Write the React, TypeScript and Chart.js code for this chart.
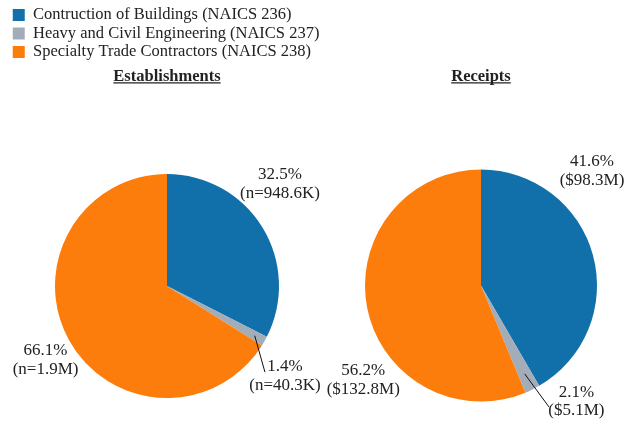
import { useEffect, useRef } from "react";
import { Chart, registerables } from "chart.js";

Chart.register(...registerables);

const categories = [
  "Contruction of Buildings (NAICS 236)",
  "Heavy and Civil Engineering (NAICS 237)",
  "Specialty Trade Contractors (NAICS 238)",
];
const chartTitles = ["Establishments", "Receipts"];
const establishmentShares = [32.5, 1.4, 66.1];
const establishmentCounts = ["948.6K", "40.3K", "1.9M"];
const receiptShares = [41.6, 2.1, 56.2];
const receiptAmounts = ["$98.3M", "$5.1M", "$132.8M"];
const sliceColors = ["#1170AA", "#A3ACB9", "#FC7D0B"];

// label placement (style): offsets from the outer mid-point of each slice
const estLabelOffsets = [[17.5, -43.5], [20.5, 34.8], [-23.5, 19.7]];
const estLeaders = [null, { from: 0.9, to: [0.5, 31] }, null];
const recLabelOffsets = [[-1, -84.4], [44, 12], [-4, 72]];
const recLeaders = [null, { from: 0.85, to: [16.6, 17.5] }, null];

const FONT = "'Liberation Serif', 'Times New Roman', serif";
const TEXT = "#222222";

function makeLabelPlugin(lines: string[][], offsets: number[][], leaders: any[]) {
  return {
    id: "sliceLabels",
    afterDraw(chart: any) {
      const ctx = chart.ctx;
      const meta = chart.getDatasetMeta(0);
      ctx.save();
      meta.data.forEach((arc: any, i: number) => {
        const p = arc.getProps(["x", "y", "startAngle", "endAngle", "outerRadius"], true);
        const mid = (p.startAngle + p.endAngle) / 2;
        const ox = p.x + Math.cos(mid) * p.outerRadius;
        const oy = p.y + Math.sin(mid) * p.outerRadius;
        const lead = leaders[i];
        if (lead) {
          ctx.beginPath();
          ctx.strokeStyle = "#111";
          ctx.lineWidth = 1;
          ctx.moveTo(p.x + Math.cos(mid) * p.outerRadius * lead.from, p.y + Math.sin(mid) * p.outerRadius * lead.from);
          ctx.lineTo(ox + lead.to[0], oy + lead.to[1]);
          ctx.stroke();
        }
        const cx = ox + offsets[i][0];
        const cy = oy + offsets[i][1];
        ctx.font = `17px ${FONT}`;
        ctx.fillStyle = TEXT;
        ctx.textAlign = "center";
        ctx.textBaseline = "middle";
        const lh = 18.5;
        lines[i].forEach((t, k) => {
          ctx.fillText(t, cx, cy + (k - (lines[i].length - 1) / 2) * lh);
        });
      });
      // underline title
      const tb = chart.titleBlock;
      if (tb) {
        ctx.font = `bold 16.5px ${FONT}`;
        const text = chart.options.plugins.title.text;
        const w = ctx.measureText(text).width;
        const midX = (tb.left + tb.right) / 2;
        const midY = tb.top + tb._padding.top + (16.5 * 1.2) / 2;
        ctx.beginPath();
        ctx.strokeStyle = TEXT;
        ctx.lineWidth = 1.3;
        ctx.moveTo(midX - w / 2, midY + 6.5);
        ctx.lineTo(midX + w / 2, midY + 6.5);
        ctx.stroke();
      }
      ctx.restore();
    },
  };
}

function makeConfig(
  title: string,
  values: number[],
  lines: string[][],
  offsets: number[][],
  leaders: any[],
  showLegend: boolean,
  padding: any,
  titlePadBottom: number
): any {
  return {
    type: "pie",
    data: {
      labels: categories,
      datasets: [
        {
          data: values,
          backgroundColor: sliceColors,
          borderWidth: 0,
        },
      ],
    },
    options: {
      responsive: false,
      animation: false,
      events: [],
      layout: { padding },
      plugins: {
        legend: {
          display: showLegend,
          position: "top",
          align: "start",
          weight: 1000,
          labels: {
            boxWidth: 12,
            boxHeight: 12,
            padding: 2,
            color: TEXT,
            font: { family: FONT, size: 16.5 },
          },
        },
        title: {
          display: true,
          text: title,
          weight: 500,
          color: TEXT,
          font: { family: FONT, size: 16.5, weight: "bold", lineHeight: 1.2 },
          padding: { top: -3.75, bottom: titlePadBottom },
        },
        tooltip: { enabled: false },
      },
    },
    plugins: [makeLabelPlugin(lines, offsets, leaders)],
  };
}

export default function App() {
  const leftRef = useRef<HTMLCanvasElement>(null);
  const rightRef = useRef<HTMLCanvasElement>(null);

  useEffect(() => {
    const estLines = establishmentShares.map((s, i) => [`${s.toFixed(1)}%`, `(n=${establishmentCounts[i]})`]);
    const recLines = receiptShares.map((s, i) => [`${s.toFixed(1)}%`, `(${receiptAmounts[i]})`]);
    const left = new Chart(
      leftRef.current!,
      makeConfig(chartTitles[0], establishmentShares, estLines, estLabelOffsets, estLeaders, true,
        { top: 4.75, left: 10.75, right: 312.75, bottom: 24 }, 87.7)
    );
    const right = new Chart(
      rightRef.current!,
      makeConfig(chartTitles[1], receiptShares, recLines, recLabelOffsets, recLeaders, false,
        { top: 70.25, left: 351, right: 25, bottom: 20.5 }, 83.2)
    );
    return () => {
      left.destroy();
      right.destroy();
    };
  }, []);

  const style: any = { position: "absolute", left: 0, top: 0 };
  return (
    <div style={{ position: "fixed", left: 0, top: 0, width: 636, height: 422, background: "#fff" }}>
      <canvas ref={leftRef} width={636} height={422} style={style} />
      <canvas ref={rightRef} width={636} height={422} style={style} />
    </div>
  );
}
